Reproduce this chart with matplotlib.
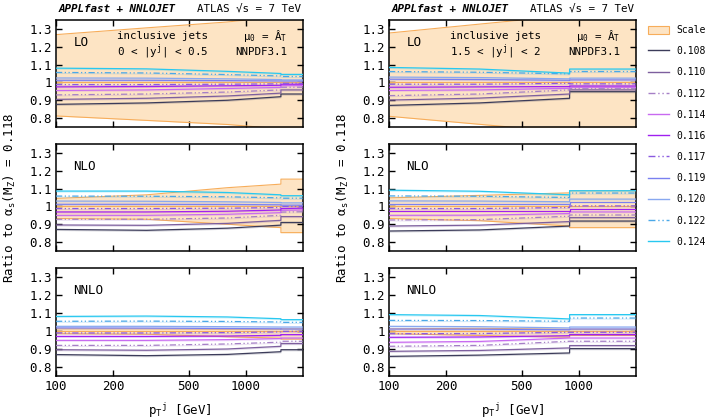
import matplotlib
matplotlib.use('Agg')
import matplotlib.pyplot as plt
from matplotlib.lines import Line2D
from matplotlib.patches import Patch
from matplotlib.ticker import FixedLocator, NullLocator
import numpy as np

plt.rcParams['font.family'] = ['DejaVu Sans Mono', 'DejaVu Sans']
plt.rcParams['mathtext.fontset'] = 'custom'
plt.rcParams['mathtext.rm'] = 'DejaVu Sans Mono'
plt.rcParams['mathtext.it'] = 'DejaVu Sans Mono:italic'
plt.rcParams['mathtext.bf'] = 'DejaVu Sans Mono:bold'

# alpha_s values and styling
alphas = ['0.108', '0.110', '0.112', '0.114', '0.116', '0.117', '0.119', '0.120', '0.122', '0.124']
colors = ['#3c3c5a', '#7d5f9e', '#a57fc6', '#c86af0', '#a020f0',
          '#8a5ae0', '#7a80f0', '#88a8f0', '#4aa8e8', '#28c8f0']
dashed = [False, False, True, False, False, True, False, False, True, False]

# pT nodes (GeV) for the two rapidity bins
pt_c = [100, 300, 800, 1530, 1530, 1992]
pt_f = [100, 300, 894, 894, 1992]

# ratios, 0 < |y| < 0.5
lo_c = [[0.877, 0.885, 0.900, 0.920, 0.935, 0.935],
        [0.905, 0.911, 0.924, 0.940, 0.958, 0.958],
        [0.930, 0.935, 0.946, 0.958, 0.973, 0.973],
        [0.955, 0.958, 0.966, 0.972, 0.982, 0.982],
        [0.975, 0.977, 0.981, 0.984, 0.990, 0.990],
        [0.988, 0.988, 0.990, 0.992, 0.995, 0.995],
        [1.012, 1.012, 1.010, 1.008, 1.008, 1.008],
        [1.025, 1.024, 1.020, 1.016, 1.014, 1.014],
        [1.056, 1.053, 1.044, 1.036, 1.033, 1.033],
        [1.080, 1.076, 1.062, 1.050, 1.045, 1.045]]
nlo_c = [[0.871, 0.866, 0.878, 0.895, 0.910, 0.910],
         [0.896, 0.894, 0.905, 0.922, 0.943, 0.943],
         [0.928, 0.928, 0.935, 0.950, 0.968, 0.970],
         [0.950, 0.950, 0.956, 0.965, 0.978, 0.980],
         [0.969, 0.969, 0.973, 0.980, 0.988, 0.990],
         [0.988, 0.988, 0.990, 0.994, 1.000, 1.000],
         [1.012, 1.012, 1.011, 1.009, 1.007, 1.007],
         [1.030, 1.029, 1.026, 1.022, 1.020, 1.020],
         [1.058, 1.057, 1.054, 1.048, 1.046, 1.046],
         [1.086, 1.086, 1.078, 1.065, 1.060, 1.060]]
nnlo_c = [[0.869, 0.863, 0.870, 0.885, 0.896, 0.896],
          [0.896, 0.893, 0.900, 0.915, 0.930, 0.930],
          [0.920, 0.920, 0.928, 0.938, 0.943, 0.943],
          [0.948, 0.948, 0.952, 0.958, 0.961, 0.961],
          [0.970, 0.970, 0.972, 0.976, 0.980, 0.980],
          [0.989, 0.989, 0.991, 0.995, 0.998, 0.998],
          [1.017, 1.016, 1.014, 1.012, 1.011, 1.011],
          [1.026, 1.026, 1.024, 1.022, 1.022, 1.022],
          [1.054, 1.055, 1.053, 1.050, 1.048, 1.048],
          [1.081, 1.083, 1.078, 1.068, 1.063, 1.063]]

# ratios, 1.5 < |y| < 2
lo_f = [[0.871, 0.885, 0.911, 0.948, 0.948],
        [0.901, 0.912, 0.935, 0.958, 0.958],
        [0.926, 0.935, 0.958, 0.967, 0.967],
        [0.955, 0.958, 0.967, 0.973, 0.973],
        [0.973, 0.975, 0.977, 0.980, 0.980],
        [0.990, 0.990, 0.995, 0.992, 0.992],
        [1.018, 1.016, 1.012, 1.014, 1.014],
        [1.030, 1.027, 1.020, 1.024, 1.024],
        [1.061, 1.057, 1.048, 1.061, 1.061],
        [1.084, 1.075, 1.052, 1.075, 1.075]]
nlo_f = [[0.862, 0.868, 0.890, 0.918, 0.918],
         [0.890, 0.895, 0.915, 0.937, 0.937],
         [0.924, 0.926, 0.945, 0.952, 0.952],
         [0.950, 0.951, 0.960, 0.969, 0.969],
         [0.975, 0.975, 0.975, 0.984, 0.984],
         [0.988, 0.988, 0.994, 1.003, 1.003],
         [1.012, 1.012, 1.012, 1.026, 1.026],
         [1.031, 1.030, 1.026, 1.041, 1.041],
         [1.059, 1.057, 1.050, 1.075, 1.075],
         [1.091, 1.085, 1.065, 1.088, 1.088]]
nnlo_f = [[0.859, 0.866, 0.878, 0.902, 0.902],
          [0.887, 0.892, 0.906, 0.919, 0.919],
          [0.915, 0.920, 0.943, 0.943, 0.943],
          [0.937, 0.942, 0.961, 0.961, 0.961],
          [0.965, 0.967, 0.974, 0.980, 0.980],
          [0.985, 0.986, 0.993, 0.993, 0.993],
          [1.011, 1.010, 1.007, 1.011, 1.011],
          [1.026, 1.024, 1.017, 1.022, 1.022],
          [1.059, 1.058, 1.054, 1.072, 1.072],
          [1.091, 1.086, 1.067, 1.091, 1.091]]

# scale uncertainty bands (upper, lower)
lo_c_band = ([1.268, 1.306, 1.339, 1.370, 1.370, 1.385], [0.812, 0.787, 0.764, 0.740, 0.740, 0.730])
nlo_c_band = ([1.045, 1.065, 1.105, 1.125, 1.153, 1.153], [0.932, 0.928, 0.900, 0.881, 0.853, 0.853])
nnlo_c_band = ([1.012, 1.012, 1.010, 1.010, 1.012, 1.012], [0.985, 0.982, 0.968, 0.960, 0.955, 0.955])
lo_f_band = ([1.277, 1.327, 1.376, 1.376, 1.410], [0.810, 0.765, 0.720, 0.720, 0.690])
nlo_f_band = ([1.048, 1.062, 1.076, 1.088, 1.088], [0.932, 0.920, 0.890, 0.881, 0.881])
nnlo_f_band = ([1.012, 1.015, 1.010, 1.010, 1.010], [0.985, 0.975, 0.965, 0.975, 0.975])

orders = ['LO', 'NLO', 'NNLO']
columns = [
    (pt_c, [lo_c, nlo_c, nnlo_c], [lo_c_band, nlo_c_band, nnlo_c_band], '0 < |y$^\\mathrm{j}$| < 0.5'),
    (pt_f, [lo_f, nlo_f, nnlo_f], [lo_f_band, nlo_f_band, nnlo_f_band], '1.5 < |y$^\\mathrm{j}$| < 2'),
]

band_face = '#fde4c4'
band_edge = '#f7ad5a'
dash_style = (0, (5, 2, 1, 2, 1, 2))

fig = plt.figure(figsize=(7.09, 4.19), dpi=100)
W, H = 709.0, 419.0
col_x = [56, 389]
row_y = [(20, 127), (144, 251), (268, 376)]
ax_w = 247

for ci, (pts, data, bands, ylab) in enumerate(columns):
    axes = []
    for ri, (y0, y1) in enumerate(row_y):
        ax = fig.add_axes([col_x[ci] / W, 1 - y1 / H, ax_w / W, (y1 - y0) / H])
        axes.append(ax)
        up, lo = bands[ri]
        ax.fill_between(pts, lo, up, color=band_face, lw=0, zorder=1)
        ax.plot(pts, up, color=band_edge, lw=0.8, zorder=2)
        ax.plot(pts, lo, color=band_edge, lw=0.8, zorder=2)
        ax.plot(pts, np.ones(len(pts)), color=band_edge, lw=0.8, zorder=2)
        for k, vals in enumerate(data[ri]):
            v = np.array(vals)
            ax.fill_between(pts, v - 0.006, v, color=colors[k], alpha=0.22, lw=0, zorder=3)
            ax.plot(pts, v, color=colors[k], lw=0.9, zorder=4,
                    linestyle=dash_style if dashed[k] else '-')
        ax.set_xscale('log')
        ax.set_xlim(100, 2000)
        ax.set_ylim(0.75, 1.35)
        ax.xaxis.set_major_locator(FixedLocator([100, 200, 500, 1000]))
        ax.xaxis.set_minor_locator(NullLocator())
        ax.set_yticks([0.8, 0.9, 1.0, 1.1, 1.2, 1.3])
        ax.set_yticklabels(['0.8', '0.9', '1', '1.1', '1.2', '1.3'])
        ax.tick_params(direction='in', top=True, right=True, length=4, width=1, labelsize=9, pad=3)
        for s in ax.spines.values():
            s.set_linewidth(1.1)
        if ri < 2:
            ax.set_xticklabels([])
        else:
            ax.set_xticklabels(['100', '200', '500', '1000'])
            ax.set_xlabel('p$_\\mathrm{T}$$^\\mathrm{j}$ [GeV]', fontsize=9, labelpad=6)
        ax.text(0.07, 0.79, orders[ri], transform=ax.transAxes, fontsize=9, va='center')

    top = axes[0]
    top.text(0.43, 0.85, 'inclusive jets', transform=top.transAxes, fontsize=7.8, ha='center', va='center')
    top.text(0.43, 0.70, ylab, transform=top.transAxes, fontsize=7.8, ha='center', va='center')
    top.text(0.935, 0.85, 'μ$_\\mathrm{0}$ = Â$_\\mathrm{T}$', transform=top.transAxes, fontsize=7.8, ha='right', va='center')
    top.text(0.935, 0.70, 'NNPDF3.1', transform=top.transAxes, fontsize=7.8, ha='right', va='center')
    top.text(0.01, 1.06, 'APPLfast + NNLOJET', transform=top.transAxes, fontsize=7.8,
             fontweight='bold', fontstyle='italic', ha='left', va='bottom')
    top.text(0.99, 1.06, 'ATLAS √s = 7 TeV', transform=top.transAxes, fontsize=7.8,
             ha='right', va='bottom')
    axes[1].set_ylabel('Ratio to α$_\\mathrm{s}$(M$_\\mathrm{Z}$) = 0.118', fontsize=9, labelpad=8)

handles = [Patch(facecolor=band_face, edgecolor=band_edge, lw=0.8)]
for k in range(len(alphas)):
    handles.append(Line2D([], [], color=colors[k], lw=1.0,
                          linestyle=dash_style if dashed[k] else '-'))
fig.legend(handles, ['Scale'] + alphas, loc='upper left', bbox_to_anchor=(648 / W, 1 - 25 / H),
           frameon=False, fontsize=7.0, handlelength=2.2, handleheight=0.9,
           labelspacing=1.15, handletextpad=0.75, borderaxespad=0, borderpad=0)

fig.savefig('out.png', dpi=100)
